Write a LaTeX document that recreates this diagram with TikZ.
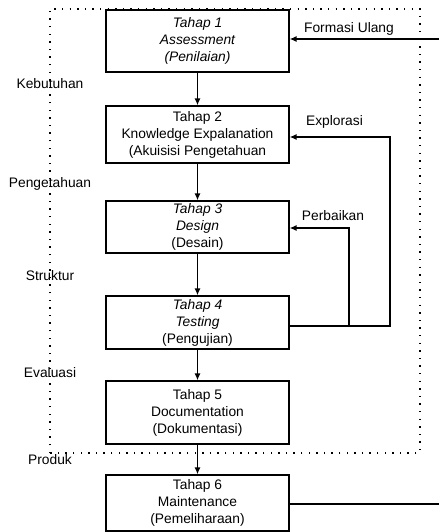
\documentclass[tikz,border=0pt]{standalone}
\usepackage{fontspec}
\setmainfont{Liberation Sans}
\usetikzlibrary{arrows.meta, positioning}

\tikzset{
  tahap/.style={draw, line width=1.2pt, minimum width=183pt, align=center,
    inner sep=1pt, font=\fontsize{13.8}{17}\selectfont},
  panah/.style={-{Latex[length=7pt,width=6pt]}, line width=1.3pt},
  garis/.style={line width=1.3pt},
  ket/.style={font=\fontsize{13.8}{16}\selectfont, inner sep=0pt},
  bingkai/.style={line width=1.4pt, dash pattern=on 1.4pt off 6.2pt}
}

\begin{document}
\begin{tikzpicture}[x=1pt, y=-1pt]
  \useasboundingbox (0,0) rectangle (439,532);
  % bingkai titik-titik
  \draw[bingkai] (50,453) -- (50,9) -- (420,9) -- (420,453) -- cycle;

  % tahap-tahap
  \node[tahap, minimum height=62pt] (t1) at (197.5,41)
    {\itshape Tahap 1\\\itshape Assessment\\\itshape (Penilaian)};
  \node[tahap, minimum height=57pt] (t2) at (197.5,134.5)
    {Tahap 2\\Knowledge Expalanation\\(Akuisisi Pengetahuan};
  \node[tahap, minimum height=52pt] (t3) at (197.5,227)
    {\itshape Tahap 3\\\itshape Design\\(Desain)};
  \node[tahap, minimum height=53pt] (t4) at (197.5,322.5)
    {\itshape Tahap 4\\\itshape Testing\\(Pengujian)};
  \node[tahap, minimum height=63pt] (t5) at (197.5,412.5)
    {Tahap 5\\Documentation\\(Dokumentasi)};
  \node[tahap, minimum height=56pt] (t6) at (197.5,503)
    {Tahap 6\\Maintenance\\(Pemeliharaan)};

  % keterangan kiri
  \node[ket] (kebutuhan) at (50,84) {Kebutuhan};
  \node[ket] (pengetahuan) at (50,184) {Pengetahuan};
  \node[ket] (struktur) at (50,276) {Struktur};
  \node[ket] (evaluasi) at (50,373) {Evaluasi};
  \node[ket] (produk) at (50,460) {Produk};

  % keterangan kanan
  \node[ket] (formasi) at (349,29) {Formasi Ulang};
  \node[ket] (explorasi) at (334.5,122) {Explorasi};
  \node[ket] (perbaikan) at (333,216) {Perbaikan};

  % alur utama
  \draw[panah] (t1) -- (t2);
  \draw[panah] (t2) -- (t3);
  \draw[panah] (t3) -- (t4);
  \draw[panah] (t4) -- (t5);
  \draw[panah] (t5) -- (t6);

  % umpan balik
  \coordinate (t4keluar) at ([yshift=-3.5pt]t4.east);
  \coordinate (sudutExplorasi) at (390,137);
  \coordinate (sudutPerbaikan) at (349,228);
  \coordinate (tepiAtas) at (439,39);
  \coordinate (tepiBawah) at (439,504);
  \draw[panah] (t4keluar) -| (sudutExplorasi) -- (t2.east |- sudutExplorasi);
  \draw[panah] (t4keluar -| sudutPerbaikan) -- (sudutPerbaikan) -- (t3.east |- sudutPerbaikan);
  \draw[panah] (tepiAtas) -- (t1.east |- tepiAtas);
  \draw[garis] (t6.east |- tepiBawah) -- (tepiBawah);
\end{tikzpicture}
\end{document}
